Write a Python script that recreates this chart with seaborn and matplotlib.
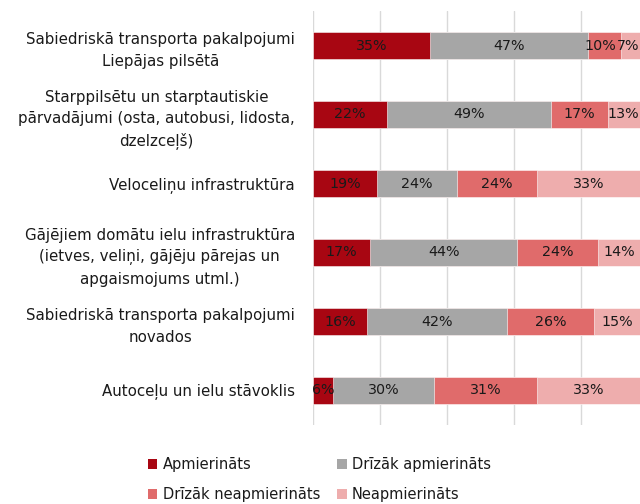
import matplotlib
matplotlib.use("Agg")
import matplotlib.pyplot as plt
from matplotlib.patches import Patch
import seaborn as sns
import pandas as pd
import numpy as np

categories = [
    "Sabiedriskā transporta pakalpojumi\nLiepājas pilsētā",
    "Starppilsētu un starptautiskie\npārvadājumi (osta, autobusi, lidosta,\ndzelzceļš)",
    "Veloceliņu infrastruktūra",
    "Gājējiem domātu ielu infrastruktūra\n(ietves, veliņi, gājēju pārejas un\napgaismojums utml.)",
    "Sabiedriskā transporta pakalpojumi\nnovados",
    "Autoceļu un ielu stāvoklis",
]
series = ["Apmierināts", "Drīzāk apmierināts", "Drīzāk neapmierināts", "Neapmierināts"]
apmierinats = [35, 22, 19, 17, 16, 6]
drizak_apmierinats = [47, 49, 24, 44, 42, 30]
drizak_neapmierinats = [10, 17, 24, 24, 26, 31]
neapmierinats = [7, 13, 33, 14, 15, 33]
colors = ["#A80612", "#A6A6A6", "#E06B6B", "#EEADAD"]

sns.set_theme(style="white")
plt.rcParams["font.family"] = ["DejaVu Sans"]

values = np.array([apmierinats, drizak_apmierinats, drizak_neapmierinats, neapmierinats], dtype=float)
cum = np.cumsum(values, axis=0)

fig = plt.figure(figsize=(6.4, 5.04), dpi=100)
ax = fig.add_axes([313 / 640, (504 - 425) / 504, 1 - 313 / 640, (425 - 11) / 504])

# stacked bars: draw cumulative totals from the outermost segment inwards
for i in range(len(series) - 1, -1, -1):
    df = pd.DataFrame({"kategorija": categories, "vertiba": cum[i]})
    sns.barplot(data=df, y="kategorija", x="vertiba", orient="h", color=colors[i],
                width=0.4, saturation=1, edgecolor="white", linewidth=0.4, ax=ax, zorder=3)

xmax = (640 - 313) / 3.35
ax.set_xlim(0, xmax)
ax.set_ylim(5.5, -0.5)
ax.set_xticks([0, 20, 40, 60, 80])
ax.xaxis.grid(True, color="#d9d9d9", linewidth=1.0, zorder=0)
ax.set_xticklabels([])
ax.set_xlabel("")
ax.set_ylabel("")
for s in ax.spines.values():
    s.set_visible(False)
ax.tick_params(axis="y", length=0, pad=13, labelsize=10.8, labelcolor="#1a1a1a")
ax.tick_params(axis="x", length=0)
for lbl in ax.get_yticklabels():
    lbl.set_multialignment("center")
    lbl.set_linespacing(1.55)

# value labels centered on the visible part of each segment
texts = [[None] * len(categories) for _ in series]
for i in range(len(series)):
    for j in range(len(categories)):
        left = cum[i][j] - values[i][j]
        right = min(cum[i][j], xmax)
        texts[i][j] = ax.text((left + right) / 2, j, f"{int(values[i][j])}%", ha="center",
                              va="center", fontsize=10.3, color="#1a1a1a", zorder=5)

# keep labels inside the plot edge and push crowded neighbours to the left
fig.canvas.draw()
renderer = fig.canvas.get_renderer()
inv = ax.transData.inverted()
for j in range(len(categories)):
    limit = xmax - 0.3
    for i in range(len(series) - 1, -1, -1):
        t = texts[i][j]
        bb = t.get_window_extent(renderer)
        x0 = inv.transform((bb.x0, 0))[0]
        x1 = inv.transform((bb.x1, 0))[0]
        if x1 > limit:
            shift = x1 - limit
            t.set_x(t.get_position()[0] - shift)
            x0 -= shift
        limit = x0

# legend filled row by row
order = [0, 2, 1, 3]
handles = [Patch(facecolor=colors[k], edgecolor="none") for k in order]
labels = [series[k] for k in order]
fig.legend(handles, labels, loc="upper left", bbox_to_anchor=(148 / 640, 1 - 457 / 504),
           ncol=2, frameon=False, fontsize=10.5, handlelength=0.65, handleheight=0.65,
           handletextpad=0.35, columnspacing=1.2, labelspacing=1.05, borderpad=0,
           borderaxespad=0, labelcolor="#1a1a1a")

fig.savefig("out.png", dpi=100)
